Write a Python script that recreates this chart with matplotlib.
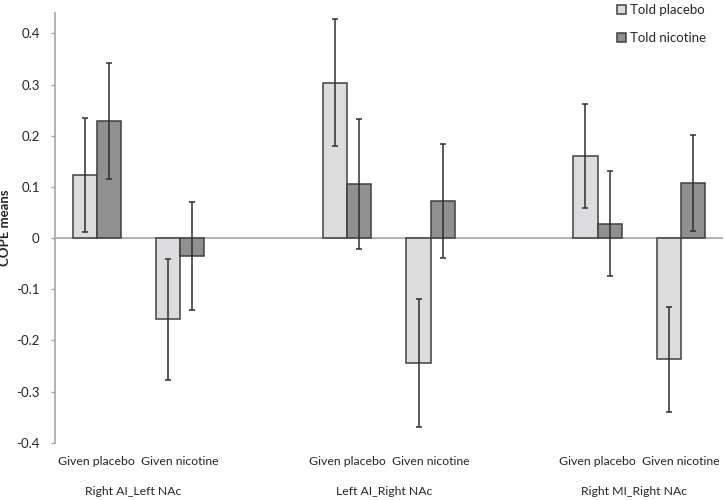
import numpy as np
import matplotlib.pyplot as plt

plt.rcParams['font.family'] = ['Lato', 'DejaVu Sans']

# Data
categories = ['Given placebo', 'Given nicotine'] * 3
groups = ['Right AI_Left NAc', 'Left AI_Right NAc', 'Right MI_Right NAc']
told_placebo = [0.123, -0.159, 0.304, -0.244, 0.161, -0.237]
told_placebo_err = [0.112, 0.118, 0.124, 0.125, 0.102, 0.103]
told_nicotine = [0.229, -0.035, 0.105, 0.072, 0.028, 0.107]
told_nicotine_err = [0.114, 0.106, 0.127, 0.111, 0.103, 0.094]

# category slots (slots 2 and 5 are empty spacers)
x = np.array([0, 1, 3, 4, 6, 7])
w = 0.29

fig = plt.figure(figsize=(7.25, 5), dpi=100)
ax = fig.add_axes([0.0759, 0.1146, 0.921, 0.8594])

ax.axhline(0, color='#a6a6a6', lw=1.2, zorder=1)

err_kw = dict(ecolor='#2e2e2e', elinewidth=1.1, capsize=2.5, capthick=1.1)
b1 = ax.bar(x - w / 2, told_placebo, w, yerr=told_placebo_err, color='#dcdcde',
            edgecolor='#404040', linewidth=1.1, error_kw=err_kw, zorder=2,
            label='Told placebo')
b2 = ax.bar(x + w / 2, told_nicotine, w, yerr=told_nicotine_err, color='#8f9092',
            edgecolor='#404040', linewidth=1.1, error_kw=err_kw, zorder=2,
            label='Told nicotine')

ax.set_xlim(-0.5, 7.5)
ax.set_ylim(-0.4, 0.44)
ax.set_yticks(np.arange(-0.4, 0.41, 0.1))
ax.set_yticklabels(['-0.4', '-0.3', '-0.2', '-0.1', '0', '0.1', '0.2', '0.3', '0.4'])
ax.tick_params(axis='y', length=3, width=1, color='#a6a6a6', labelsize=9.5,
               labelcolor='#262626', pad=8)
ax.set_xticks([])

for s in ['top', 'right', 'bottom']:
    ax.spines[s].set_visible(False)
ax.spines['left'].set_color('#a6a6a6')
ax.spines['left'].set_linewidth(1.2)

ax.set_ylabel('COPE means', fontsize=9.5, fontweight='bold', color='#262626')
ax.yaxis.set_label_coords(-0.066, 0.5)

# category and group labels below the plot
for xi, c in zip(x, categories):
    ax.text(xi, -0.4 - 0.036, c, ha='center', va='center', fontsize=8.8,
            color='#262626', clip_on=False)
for i, g in enumerate(groups):
    gx = (x[2 * i] + x[2 * i + 1]) / 2 - 0.06
    ax.text(gx, -0.4 - 0.095, g, ha='center', va='center', fontsize=8.8,
            color='#262626', clip_on=False)

leg = fig.legend(handles=[b1, b2], loc='upper left', bbox_to_anchor=(0.835, 1.015),
                 frameon=False, fontsize=9.5, handlelength=0.7, handleheight=0.7,
                 handletextpad=0.3, labelspacing=1.2)
for t in leg.get_texts():
    t.set_color('#262626')

fig.savefig('out.png', dpi=100)
